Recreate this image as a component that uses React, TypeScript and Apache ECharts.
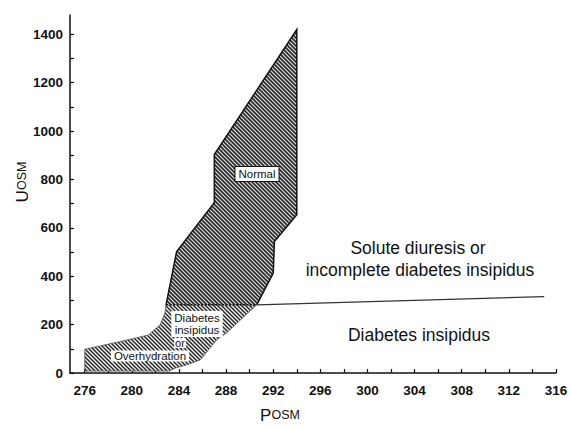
import React, { useEffect, useRef } from 'react';
import * as echarts from 'echarts';

// Axis ticks and labels
const xTickValues = [276, 278, 280, 282, 284, 286, 288, 290, 292, 294, 296, 298, 300, 302, 304, 306, 308, 310, 312, 314, 316];
const xLabelValues = [276, 280, 284, 288, 292, 296, 300, 304, 308, 312, 316];
const yTickValues = [0, 100, 200, 300, 400, 500, 600, 700, 800, 900, 1000, 1100, 1200, 1300, 1400];
const yLabelValues = [0, 200, 400, 600, 800, 1000, 1200, 1400];

// "Normal" region outline (Posm, Uosm)
const normalX = [294.0, 294.0, 292.1, 292.0, 290.6, 282.9, 283.8, 287.0, 287.0];
const normalY = [1420, 654, 544, 413, 282, 282, 502, 704, 903];

// "Diabetes insipidus or Overhydration" region outline
const lowX = [276.0, 276.0, 279.0, 281.4, 282.4, 282.8, 282.9, 290.6, 288.0, 287.2, 285.8, 284.6, 283.7, 283.2];
const lowY = [8, 98, 130, 157, 199, 247, 282, 282, 164, 137, 54, 33, 21, 8];

// Divider between solute diuresis and diabetes insipidus
const dividerX = [290.6, 315.0];
const dividerY = [282, 316];

const FONT = "'Liberation Sans', Arial, Helvetica, sans-serif";

function makeHatch(bg: string, fg: string, size: number, width: number) {
  const c = document.createElement('canvas');
  c.width = size;
  c.height = size;
  const ctx = c.getContext('2d')!;
  ctx.fillStyle = bg;
  ctx.fillRect(0, 0, size, size);
  ctx.strokeStyle = fg;
  ctx.lineWidth = width;
  ctx.beginPath();
  ctx.moveTo(-1, -1);
  ctx.lineTo(size + 1, size + 1);
  ctx.moveTo(-1, size - 1);
  ctx.lineTo(1, size + 1);
  ctx.moveTo(size - 1, -1);
  ctx.lineTo(size + 1, 1);
  ctx.stroke();
  return c;
}

export default function App() {
  const ref = useRef<HTMLDivElement>(null);

  useEffect(() => {
    document.body.style.margin = '0';
    if (!ref.current) return;
    const chart = echarts.init(ref.current, null, { renderer: 'svg' });

    const darkHatch = { image: makeHatch('#2e2e2e', '#e0e0e0', 4, 1.1), repeat: 'repeat' };
    const lightHatch = { image: makeHatch('#f2f2f2', '#2a2a2a', 4, 1.5), repeat: 'repeat' };

    const normalPts = normalX.map((x, i) => [x, normalY[i]]);
    const lowPts = lowX.map((x, i) => [x, lowY[i]]);
    const dividerPts = dividerX.map((x, i) => [x, dividerY[i]]);

    const labelStyle = { color: '#111', fontSize: 13.5, fontWeight: 'bold', fontFamily: FONT };

    const option: any = {
      animation: false,
      backgroundColor: '#ffffff',
      grid: { left: 70, right: 15, top: 15, bottom: 56, containLabel: false, outerBoundsMode: 'none' },
      xAxis: {
        type: 'value',
        min: 274.75,
        max: 316,
        axisLine: { show: true, onZero: false, lineStyle: { color: '#111', width: 1.5 } },
        axisTick: { show: true, inside: true, length: 4, customValues: xTickValues, lineStyle: { color: '#111', width: 1.2 } },
        axisLabel: { ...labelStyle, margin: 10, customValues: xLabelValues, formatter: (v: number) => String(v) },
        splitLine: { show: false },
      },
      yAxis: {
        type: 'value',
        min: 0,
        max: 1480,
        axisLine: { show: true, onZero: false, lineStyle: { color: '#111', width: 1.5 } },
        axisTick: { show: true, inside: true, length: 4, customValues: yTickValues, lineStyle: { color: '#111', width: 1.2 } },
        axisLabel: { ...labelStyle, margin: 7, customValues: yLabelValues, formatter: (v: number) => String(v) },
        splitLine: { show: false },
      },
      series: [
        {
          type: 'custom',
          name: 'DI or overhydration',
          coordinateSystem: 'cartesian2d',
          silent: true,
          z: 2,
          data: [lowPts[0]],
          renderItem: (_params: any, api: any) => {
            const pts = lowPts.map((p) => api.coord(p));
            return {
              type: 'polygon',
              shape: { points: pts },
              style: { fill: lightHatch, stroke: '#555', lineWidth: 0.8 },
            };
          },
        },
        {
          type: 'custom',
          name: 'Normal',
          coordinateSystem: 'cartesian2d',
          silent: true,
          z: 3,
          data: [normalPts[0]],
          renderItem: (_params: any, api: any) => {
            const pts = normalPts.map((p) => api.coord(p));
            const outline = [pts[5], pts[6], pts[7], pts[8], pts[0], pts[1], pts[2], pts[3], pts[4]];
            return {
              type: 'group',
              children: [
                { type: 'polygon', shape: { points: pts }, style: { fill: darkHatch, stroke: 'none' } },
                { type: 'polyline', shape: { points: outline }, style: { fill: 'none', stroke: '#111', lineWidth: 1.5 } },
                {
                  type: 'line',
                  shape: { x1: pts[5][0], y1: pts[5][1], x2: pts[4][0], y2: pts[4][1] },
                  style: { stroke: '#111', lineWidth: 1.6, lineDash: [2, 1.5] },
                },
              ],
            };
          },
        },
        {
          type: 'line',
          name: 'divider',
          data: dividerPts,
          symbol: 'none',
          silent: true,
          z: 4,
          lineStyle: { color: '#333', width: 1.2 },
        },
      ],
      graphic: [
        {
          type: 'text',
          x: 22,
          y: 182,
          rotation: Math.PI / 2,
          style: {
            text: '{a|U}{b|OSM}',
            align: 'center',
            verticalAlign: 'middle',
            fill: '#111',
            rich: {
              a: { fontSize: 17, fontFamily: FONT, fill: '#111' },
              b: { fontSize: 12.5, fontFamily: FONT, fill: '#111' },
            },
          },
        },
        {
          type: 'text',
          x: 280,
          y: 415,
          style: {
            text: '{a|P}{b|OSM}',
            align: 'center',
            verticalAlign: 'middle',
            fill: '#111',
            rich: {
              a: { fontSize: 17, fontFamily: FONT, fill: '#111' },
              b: { fontSize: 12.5, fontFamily: FONT, fill: '#111' },
            },
          },
        },
        {
          type: 'text',
          x: 418,
          y: 248,
          style: { text: 'Solute diuresis or', font: `17.5px ${FONT}`, fill: '#111', align: 'center', verticalAlign: 'middle' },
        },
        {
          type: 'text',
          x: 420,
          y: 270,
          style: { text: 'incomplete diabetes insipidus', font: `17.5px ${FONT}`, fill: '#111', align: 'center', verticalAlign: 'middle' },
        },
        {
          type: 'text',
          x: 419,
          y: 335,
          style: { text: 'Diabetes insipidus', font: `17.5px ${FONT}`, fill: '#111', align: 'center', verticalAlign: 'middle' },
        },
        {
          type: 'text',
          x: 257,
          y: 174,
          z: 10,
          style: {
            text: 'Normal',
            font: `11.5px ${FONT}`,
            fill: '#111',
            align: 'center',
            verticalAlign: 'middle',
            backgroundColor: '#fff',
            borderColor: '#111',
            borderWidth: 1,
            padding: [1, 3],
          },
        },
        {
          type: 'text',
          x: 197,
          y: 324,
          z: 10,
          style: {
            text: 'Diabetes\ninsipidus',
            font: `11.5px ${FONT}`,
            lineHeight: 12,
            fill: '#111',
            align: 'center',
            verticalAlign: 'middle',
            backgroundColor: '#fff',
            padding: [1, 3],
          },
        },
        {
          type: 'text',
          x: 180,
          y: 343,
          z: 10,
          style: {
            text: 'or',
            font: `11px ${FONT}`,
            lineHeight: 10,
            fill: '#111',
            align: 'center',
            verticalAlign: 'middle',
            backgroundColor: '#fff',
            padding: [0, 1],
          },
        },
        {
          type: 'text',
          x: 150,
          y: 356,
          z: 10,
          style: {
            text: 'Overhydration',
            font: `11.5px ${FONT}`,
            lineHeight: 11,
            fill: '#111',
            align: 'center',
            verticalAlign: 'middle',
            backgroundColor: '#fff',
            padding: [0, 3],
          },
        },
      ],
    };

    chart.setOption(option);
    return () => chart.dispose();
  }, []);

  return <div ref={ref} style={{ width: 571, height: 429 }} />;
}
